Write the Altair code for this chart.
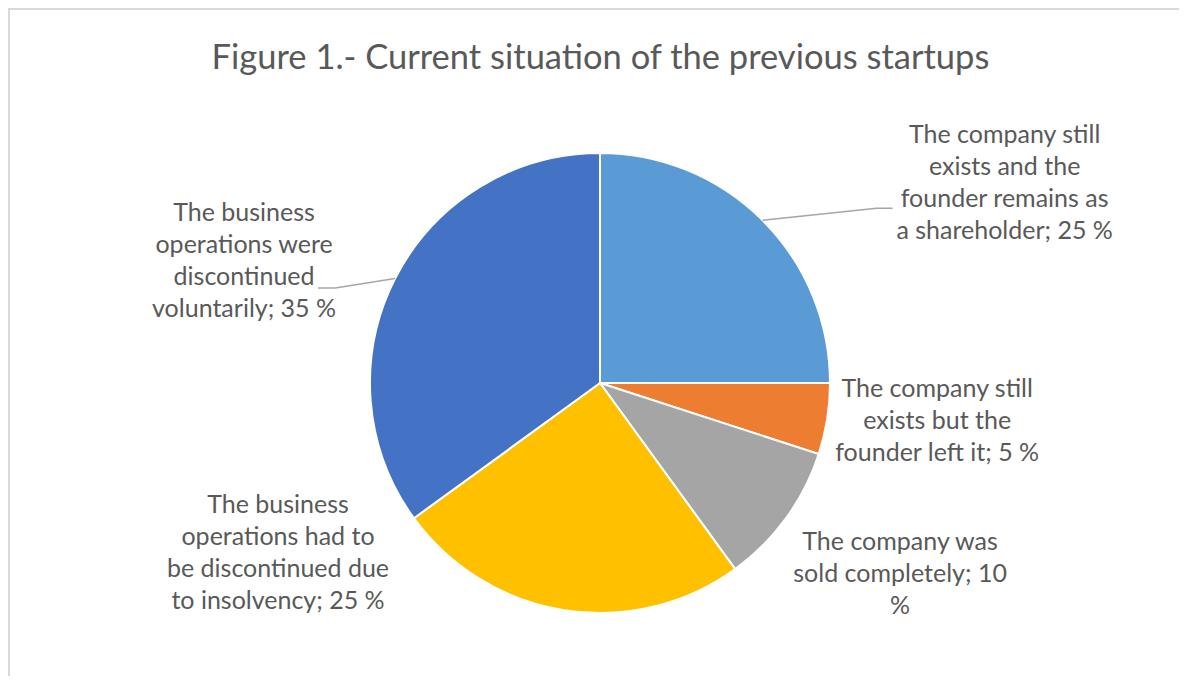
import altair as alt
import numpy as np
import pandas as pd

# ---- data ----
categories = [
    "The company still exists and the founder remains as a shareholder",
    "The company still exists but the founder left it",
    "The company was sold completely",
    "The business operations had to be discontinued due to insolvency",
    "The business operations were discontinued voluntarily",
]
values = [25, 5, 10, 25, 35]
label_lines = [
    "The company still\nexists and the\nfounder remains as\na shareholder; 25 %",
    "The company still\nexists but the\nfounder left it; 5 %",
    "The company was\nsold completely; 10\n%",
    "The business\noperations had to\nbe discontinued due\nto insolvency; 25 %",
    "The business\noperations were\ndiscontinued\nvoluntarily; 35 %",
]
colors = ["#5B9BD5", "#ED7D31", "#A5A5A5", "#FFC000", "#4472C4"]

# ---- layout ----
W, H = 1171, 668
CX, CY, R = 592, 375, 230
LH = 32
label_dx = [242, 110, 114, -286, -151]
label_dy = [-37, 2, 56, -57, -18]
# leader lines: (slice index, elbow offset from edge, tail length)
leaders = [(0, (114, -12), 16), (4, (-60, 9.5), -17)]

df = pd.DataFrame({"category": categories, "value": values, "order": range(len(values))})

vals = np.array(values, dtype=float)
cum = np.cumsum(vals)
mid = (cum - vals / 2) / vals.sum() * 2 * np.pi
ex = CX + R * np.sin(mid)
ey = CY - R * np.cos(mid)

nlines = np.array([t.count("\n") + 1 for t in label_lines])
lab = pd.DataFrame({
    "x": ex + np.array(label_dx),
    "y": ey + np.array(label_dy) - (nlines - 1) / 2 * LH,
    "text": label_lines,
})

rows = []
for i, (idx, (ox, oy), tail) in enumerate(leaders):
    x0, y0 = ex[idx], ey[idx]
    x1, y1 = x0 + ox, y0 + oy
    rows += [
        {"seg": i, "k": 0, "x": x0, "y": y0},
        {"seg": i, "k": 1, "x": x1, "y": y1},
        {"seg": i, "k": 2, "x": x1 + tail, "y": y1},
    ]
lead = pd.DataFrame(rows)

xs = alt.Scale(domain=[0, W], nice=False, zero=False)
ys = alt.Scale(domain=[0, H], nice=False, zero=False, reverse=True)

pie = alt.Chart(df).mark_arc(outerRadius=R, stroke="white", strokeWidth=2).encode(
    theta=alt.Theta("value:Q", stack=True),
    color=alt.Color("category:N", scale=alt.Scale(domain=categories, range=colors), legend=None),
    order=alt.Order("order:Q"),
    x=alt.value(CX),
    y=alt.value(CY),
)

lines = alt.Chart(lead).mark_line(color="#A6A6A6", strokeWidth=1.5).encode(
    x=alt.X("x:Q", scale=xs, axis=None),
    y=alt.Y("y:Q", scale=ys, axis=None),
    detail="seg:N",
    order="k:Q",
)

texts = alt.Chart(lab).mark_text(
    font="Lato", fontSize=25, color="#595959", align="center",
    baseline="middle", lineBreak="\n", lineHeight=LH,
).encode(
    x=alt.X("x:Q", scale=xs, axis=None),
    y=alt.Y("y:Q", scale=ys, axis=None),
    text="text:N",
)

border_top = alt.Chart(df).mark_rule(color="#D9D9D9", strokeWidth=2).encode(
    x=alt.value(0), x2=alt.value(W), y=alt.value(1)
)
border_left = alt.Chart(df).mark_rule(color="#D9D9D9", strokeWidth=2).encode(
    x=alt.value(1), y=alt.value(0), y2=alt.value(H)
)

chart = alt.layer(pie, lines, texts, border_top, border_left).properties(
    width=W, height=H,
    autosize=alt.AutoSizeParams(type="none"),
    padding=0,
    title=alt.TitleParams(
        "Figure 1.- Current situation of the previous startups",
        font="Lato", fontSize=34.5, fontWeight="normal", color="#595959",
        anchor="middle", frame="group", offset=-96, baseline="alphabetic", dx=7,
    ),
).configure_view(stroke=None)

chart.save("out.html", embed_options={"renderer": "svg", "actions": False})
